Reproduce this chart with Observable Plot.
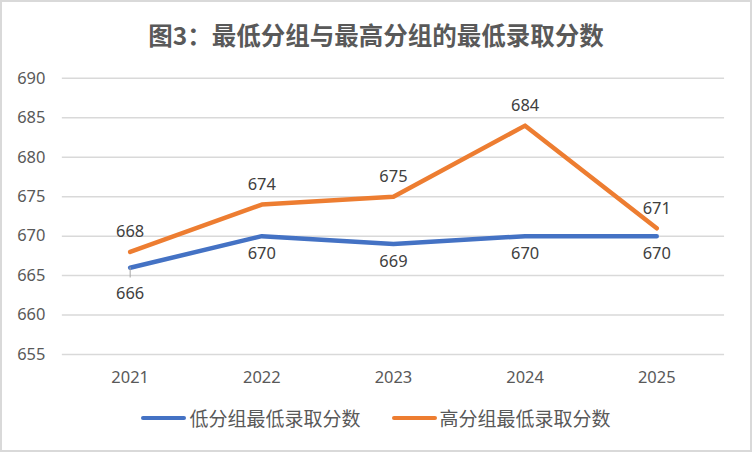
<!DOCTYPE html>
<html><head><meta charset="utf-8">
<script src="https://cdn.jsdelivr.net/npm/d3@7"></script>
<script src="https://cdn.jsdelivr.net/npm/@observablehq/plot@0.6"></script>
<style>
html,body{margin:0;padding:0;background:#fff;}
#wrap{position:relative;width:752px;height:452px;box-sizing:border-box;border:2px solid #d9d9d9;overflow:hidden;font-family:"Noto Sans CJK SC","Noto Sans",sans-serif;}
#title{position:absolute;left:0;top:20px;width:748px;text-align:center;font-size:24.5px;line-height:25px;font-weight:bold;color:#595959;}
#chart{position:absolute;left:-2px;top:-2px;}
#legend{position:absolute;top:406px;left:0;width:748px;display:flex;justify-content:center;gap:31px;font-size:19px;line-height:20px;color:#595959;}
.item{display:flex;align-items:center;}
.sw{display:inline-block;width:45px;height:4.5px;border-radius:2px;margin-right:3px;}
</style></head>
<body>
<div id="wrap">
<div id="title">图3：最低分组与最高分组的最低录取分数</div>
<div id="chart"></div>
<div id="legend"></div>
</div>
<script>
const years = ["2021","2022","2023","2024","2025"];
const lowGroup = [666, 670, 669, 670, 670];
const highGroup = [668, 674, 675, 684, 671];
const seriesNames = ["低分组最低录取分数", "高分组最低录取分数"];
const colors = ["#4472C4", "#ED7D31"];
const yTicks = [655, 660, 665, 670, 675, 680, 685, 690];

const low = years.map((y, i) => ({year: y, value: lowGroup[i], series: seriesNames[0]}));
const high = years.map((y, i) => ({year: y, value: highGroup[i], series: seriesNames[1]}));

const font = "'Noto Sans','Noto Sans CJK SC',sans-serif";
const plot = Plot.plot({
  width: 752,
  height: 390,
  marginLeft: 62,
  marginRight: 26,
  marginTop: 78,
  marginBottom: 35,
  style: {fontFamily: font, fontSize: "16.5px", color: "#595959", background: "transparent"},
  x: {type: "point", domain: years, padding: 0.5, label: null},
  y: {domain: [655, 690], label: null},
  marks: [
    Plot.gridY(yTicks, {stroke: "#d9d9d9", strokeOpacity: 1, strokeWidth: 1.5}),
    Plot.axisY(yTicks, {tickSize: 0, tickPadding: 17, fontSize: 16.5, fill: "#595959", label: null}),
    Plot.axisX({tickSize: 0, tickPadding: 17, fontSize: 16.5, fill: "#595959", label: null}),
    Plot.line(low, {x: "year", y: "value", stroke: colors[0], strokeWidth: 4.5}),
    Plot.line(high, {x: "year", y: "value", stroke: colors[1], strokeWidth: 4.5}),
    Plot.ruleX(low.filter((d, i) => i === 0), {x: "year", y1: "value", y2: d => d.value - 1.3, stroke: "#a6a6a6", strokeWidth: 1}),
    Plot.text(low.filter((d, i) => i === 0), {x: "year", y: "value", text: d => String(d.value), dy: 26, fontSize: 16.5, fill: "#404040"}),
    Plot.text(low.filter((d, i) => i > 0), {x: "year", y: "value", text: d => String(d.value), dy: 18, fontSize: 16.5, fill: "#404040"}),
    Plot.text(high, {x: "year", y: "value", text: d => String(d.value), dy: -20, fontSize: 16.5, fill: "#404040"})
  ]
});
document.getElementById("chart").appendChild(plot);

const legend = document.getElementById("legend");
seriesNames.forEach((name, i) => {
  const item = document.createElement("div");
  item.className = "item";
  const sw = document.createElement("span");
  sw.className = "sw";
  sw.style.background = colors[i];
  item.appendChild(sw);
  item.appendChild(document.createTextNode(name));
  legend.appendChild(item);
});
</script>
</body></html>
